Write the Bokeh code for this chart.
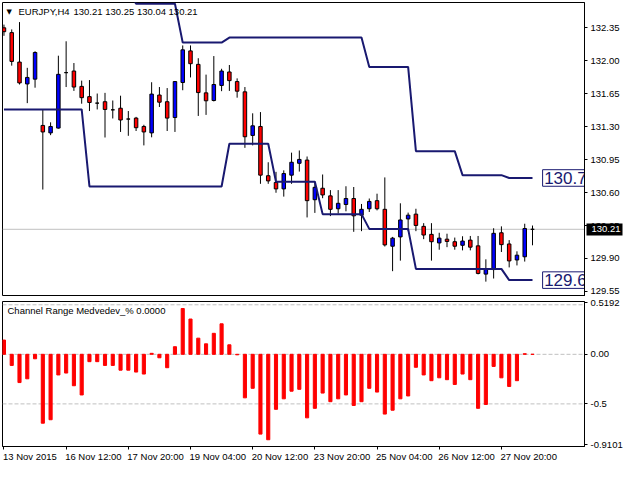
from bokeh.plotting import figure
from bokeh.models import (Range1d, FixedTicker, NumeralTickFormatter, Span, Label,
                          ColumnDataSource, LinearAxis)
from bokeh.layouts import column
from bokeh.embed import file_html
from bokeh.resources import INLINE
from bokeh.core.properties import value

# ---------------- data (EURJPY H4) ----------------
opens = [132.350, 132.299, 131.986, 131.754, 131.805, 131.313, 131.234, 131.285, 131.874, 131.891,
         131.728, 131.619, 131.550, 131.565, 131.479, 131.496, 131.381, 131.391, 131.302, 131.234,
         131.636, 131.565, 131.397, 131.769, 132.105, 131.962, 131.659, 131.578, 131.738, 131.881,
         131.779, 131.670, 131.207, 131.302, 130.779, 130.707, 130.639, 130.785, 130.911, 130.945,
         130.524, 130.646, 130.565, 130.428, 130.473, 130.537, 130.360, 130.428, 130.514, 130.422,
         130.030, 130.129, 130.320, 130.371, 130.241, 130.156, 130.065, 130.105, 130.078, 130.040,
         130.095, 130.034, 129.734, 129.782, 130.173, 130.054, 129.884, 129.918, 130.210]
highs = [132.384, 132.333, 132.411, 131.925, 132.101, 131.483, 131.346, 132.054, 132.207, 131.976,
         131.789, 131.795, 131.652, 131.659, 131.578, 131.629, 131.466, 131.404, 131.320, 131.772,
         131.721, 131.710, 131.782, 132.163, 132.163, 132.027, 131.853, 132.050, 131.915, 131.955,
         131.813, 131.721, 131.442, 131.455, 130.922, 130.820, 130.836, 131.024, 131.047, 130.983,
         130.718, 130.792, 130.626, 130.626, 130.667, 130.659, 130.479, 130.537, 130.588, 130.761,
         130.129, 130.486, 130.387, 130.428, 130.275, 130.275, 130.173, 130.163, 130.122, 130.136,
         130.139, 130.139, 129.891, 130.221, 130.241, 130.095, 129.976, 130.269, 130.250]
lows = [132.265, 131.948, 131.748, 131.550, 131.714, 130.632, 131.210, 131.279, 131.721, 131.680,
        131.544, 131.466, 131.483, 131.185, 131.387, 131.244, 131.203, 131.254, 131.101, 131.187,
        131.509, 131.254, 131.244, 131.687, 131.823, 131.414, 131.425, 131.568, 131.677, 131.680,
        131.608, 131.075, 131.101, 130.693, 130.693, 130.598, 130.557, 130.693, 130.823, 130.336,
        130.384, 130.540, 130.350, 130.377, 130.401, 130.183, 130.190, 130.394, 130.411, 130.027,
        129.765, 129.877, 130.190, 130.190, 130.105, 129.877, 129.993, 130.020, 129.993, 129.986,
        129.986, 129.731, 129.654, 129.687, 129.969, 129.805, 129.826, 129.867, 130.040]
closes = [132.309, 131.993, 131.765, 131.823, 132.088, 131.244, 131.302, 131.856, 131.874, 131.721,
          131.608, 131.557, 131.550, 131.483, 131.479, 131.371, 131.381, 131.289, 131.244, 131.646,
          131.560, 131.391, 131.779, 132.116, 131.969, 131.662, 131.575, 131.748, 131.891, 131.789,
          131.677, 131.193, 131.309, 130.785, 130.724, 130.639, 130.802, 130.922, 130.952, 130.514,
          130.656, 130.575, 130.422, 130.486, 130.537, 130.353, 130.422, 130.506, 130.428, 130.044,
          130.116, 130.309, 130.360, 130.251, 130.149, 130.078, 130.116, 130.081, 130.030, 130.085,
          130.020, 129.741, 129.782, 130.167, 130.047, 129.874, 129.935, 130.218, 130.210]
upper = [132.750, 132.750, 132.750, 132.750, 132.750, 132.750, 132.750, 132.750, 132.750, 132.750,
         132.750, 132.750, 132.750, 132.750, 132.750, 132.750, 132.750, 132.605, 132.605, 132.605,
         132.605, 132.605, 132.605, 132.193, 132.193, 132.193, 132.193, 132.193, 132.193, 132.246,
         132.246, 132.246, 132.246, 132.246, 132.246, 132.246, 132.246, 132.246, 132.246, 132.246,
         132.246, 132.246, 132.246, 132.246, 132.246, 132.246, 132.246, 131.935, 131.935, 131.935,
         131.935, 131.935, 131.935, 131.040, 131.040, 131.040, 131.040, 131.040, 131.040, 130.785,
         130.785, 130.785, 130.785, 130.785, 130.785, 130.755, 130.755, 130.755, 130.755]
lower = [131.483, 131.483, 131.483, 131.483, 131.483, 131.483, 131.483, 131.483, 131.483, 131.483,
         131.483, 130.665, 130.665, 130.665, 130.665, 130.665, 130.665, 130.665, 130.665, 130.665,
         130.665, 130.665, 130.665, 130.665, 130.665, 130.665, 130.665, 130.665, 130.665, 131.119,
         131.119, 131.119, 131.119, 131.119, 131.119, 130.714, 130.714, 130.714, 130.714, 130.714,
         130.714, 130.371, 130.371, 130.371, 130.371, 130.371, 130.371, 130.214, 130.214, 130.214,
         130.214, 130.214, 130.214, 129.789, 129.789, 129.789, 129.789, 129.789, 129.789, 129.789,
         129.789, 129.789, 129.789, 129.789, 129.789, 129.670, 129.670, 129.670, 129.670]
hist = [0.144, -0.112, -0.285, -0.247, -0.045, -0.695, -0.660, -0.208, -0.189, -0.317,
        -0.410, -0.074, -0.074, -0.112, -0.112, -0.160, -0.160, -0.179, -0.199, 0.010,
        -0.035, -0.135, 0.077, 0.462, 0.356, 0.163, 0.106, 0.212, 0.308, 0.096,
        -0.005, -0.439, -0.343, -0.805, -0.862, -0.555, -0.449, -0.372, -0.353, -0.641,
        -0.545, -0.391, -0.478, -0.449, -0.410, -0.516, -0.478, -0.343, -0.381, -0.603,
        -0.564, -0.449, -0.420, -0.131, -0.208, -0.266, -0.237, -0.256, -0.304, -0.199,
        -0.256, -0.545, -0.506, -0.122, -0.237, -0.324, -0.266, 0.006, 0.000]
time_ticks = [0, 8, 16, 24, 32, 40, 48, 56, 64]
time_labels = ["13 Nov 2015", "16 Nov 12:00", "17 Nov 20:00", "19 Nov 04:00", "20 Nov 12:00",
               "23 Nov 20:00", "25 Nov 04:00", "26 Nov 12:00", "27 Nov 20:00"]
price_ticks = [132.35, 132.00, 131.65, 131.30, 130.95, 130.60, 130.25, 129.90, 129.55]
ind_ticks = [0.5192, 0.0, -0.5, -0.9101]
ind_tick_labels = ["0.5192", "0.00", "-0.5", "-0.9101"]
ind_levels = [0.5, 0.0, -0.5]
symbol = "EURJPY,H4"
ohlc_text = "130.21 130.25 130.04 130.21"
bid = 130.21
upper_text = "130.7"
lower_text = "129.6"
ind_title = "Channel Range Medvedev_% 0.0000"

# ---------------- style ----------------
FONT = "Liberation Sans"
FS_PX = 9.5
FS = "9.5px"
NAVY = "#191970"
X0, X1 = -0.1875, 74.69
Y0, Y1 = 129.496, 132.619
I0, I1 = -0.93, 0.533
FRAME_W = 582
PX_PER_BAR = FRAME_W / (X1 - X0)
PRICE_AX_W = 35   # approximate width taken by the price scale (tick 3 + gap 3 + label ~29)

# Arial / Liberation Sans advance widths (per 1000 em) for label centring
ADV = {c: 556 for c in "0123456789"}
ADV.update({" ": 278, ":": 278, ".": 278, "N": 722, "o": 556, "v": 500})

def text_px(s):
    return sum(ADV.get(ch, 556) for ch in s) * FS_PX / 1000.0

idx = list(range(len(opens)))
colors = ["#0000ff" if c > o else ("#ff0000" if c < o else "#000000") for o, c in zip(opens, closes)]
src = ColumnDataSource(dict(x=idx, o=opens, h=highs, l=lows, c=closes,
                            top=[max(o, c) for o, c in zip(opens, closes)],
                            bottom=[min(o, c) for o, c in zip(opens, closes)],
                            color=colors))

def style_axis(ax):
    ax.major_tick_out = 3
    ax.major_tick_in = 0
    ax.minor_tick_out = 0
    ax.minor_tick_in = 0
    ax.axis_line_color = "black"
    ax.major_tick_line_color = "black"
    ax.major_label_text_font = FONT
    ax.major_label_text_font_size = FS
    ax.major_label_text_color = "black"
    ax.major_label_standoff = 3

# ---------------- main price panel ----------------
p1 = figure(frame_width=FRAME_W, frame_height=294, x_range=Range1d(X0, X1), y_range=Range1d(Y0, Y1),
            output_backend="svg", toolbar_location=None, x_axis_location=None,
            y_axis_location="right", min_border_left=2, min_border_right=40,
            min_border_top=2, min_border_bottom=0)
p1.xgrid.visible = False
p1.ygrid.visible = False
p1.outline_line_color = "black"
p1.outline_line_alpha = 1
p1.background_fill_color = "white"
p1.border_fill_color = "white"

price_ax = p1.yaxis[0]
style_axis(price_ax)
price_ax.ticker = FixedTicker(ticks=price_ticks)
price_ax.formatter = NumeralTickFormatter(format="0.00")

# bid price tag: a second scale stacked outside, whose single tick is drawn inwards
# as a thick black bar over the price scale, with its white label pulled back on top
tag_ax = LinearAxis(ticker=FixedTicker(ticks=[bid]), formatter=NumeralTickFormatter(format="0.00"))
tag_ax.axis_line_color = None
tag_ax.major_tick_in = PRICE_AX_W + 1
tag_ax.major_tick_out = 0
tag_ax.minor_tick_in = 0
tag_ax.minor_tick_out = 0
tag_ax.major_tick_line_width = 12
tag_ax.major_tick_line_color = "black"
tag_ax.major_tick_line_cap = "butt"
tag_ax.major_label_standoff = 4 - PRICE_AX_W
tag_ax.major_label_text_font = FONT
tag_ax.major_label_text_font_size = FS
tag_ax.major_label_text_color = "white"
p1.add_layout(tag_ax, "right")

p1.add_layout(Span(location=bid, dimension="width", line_color="#c0c0c0", line_width=1,
                   level="underlay"))

p1.segment(x0="x", y0="l", x1="x", y1="h", source=src, line_color="black", line_width=1)
p1.vbar(x="x", width=0.45, top="top", bottom="bottom", source=src,
        fill_color="color", line_color="black", line_width=1)

p1.line(idx, upper, line_color=NAVY, line_width=2)
p1.line(idx, lower, line_color=NAVY, line_width=2)

for lev, txt in ((upper[-1], upper_text), (lower[-1], lower_text)):
    p1.quad(left=[69.3], right=[80.0], top=[lev + 0.088], bottom=[lev - 0.088],
            fill_color="white", line_color=NAVY, line_width=1)
    p1.text(x=[69.5], y=[lev], text=[txt], text_font=value(FONT), text_font_size="17px",
            text_color=NAVY, text_baseline="middle", text_align="left")

p1.add_layout(Label(x=X0, y=Y1, x_offset=4, y_offset=-5, text="\u25bc", text_font="DejaVu Sans",
                    text_font_size="7px", text_color="black", text_baseline="top"))
p1.add_layout(Label(x=X0, y=Y1, x_offset=16, y_offset=-3, text=symbol, text_font=FONT,
                    text_font_size=FS, text_color="black", text_baseline="top"))
p1.add_layout(Label(x=X0, y=Y1, x_offset=71, y_offset=-3, text=ohlc_text, text_font=FONT,
                    text_font_size=FS, text_color="black", text_baseline="top"))

# ---------------- indicator panel ----------------
p2 = figure(frame_width=FRAME_W, frame_height=145, x_range=p1.x_range, y_range=Range1d(I0, I1),
            output_backend="svg", toolbar_location=None, y_axis_location="right",
            x_axis_location="below", min_border_left=2, min_border_right=40,
            min_border_top=5, min_border_bottom=18)
p2.xgrid.visible = False
p2.ygrid.visible = False
p2.outline_line_color = "black"
p2.outline_line_alpha = 1
p2.background_fill_color = "white"
p2.border_fill_color = "white"
p2.yaxis.ticker = FixedTicker(ticks=ind_ticks)
p2.yaxis.major_label_overrides = {t: s for t, s in zip(ind_ticks, ind_tick_labels)}
style_axis(p2.yaxis[0])

# time scale: tick marks at the bars (no labels) ...
tick_ax = p2.xaxis[0]
style_axis(tick_ax)
tick_ax.ticker = FixedTicker(ticks=time_ticks)
tick_ax.major_label_overrides = {t: "" for t in time_ticks}
tick_ax.major_label_text_font_size = "0px"
tick_ax.major_label_standoff = 0

# ... and labels written to the right of each tick, as MetaTrader does
label_pos = [t + (text_px(s) / 2.0 - 1.0) / PX_PER_BAR for t, s in zip(time_ticks, time_labels)]
label_ax = LinearAxis(ticker=FixedTicker(ticks=label_pos))
label_ax.major_label_overrides = {pos: s for pos, s in zip(label_pos, time_labels)}
label_ax.axis_line_color = None
label_ax.major_tick_in = 0
label_ax.major_tick_out = 0
label_ax.minor_tick_in = 0
label_ax.minor_tick_out = 0
label_ax.major_label_standoff = 1
label_ax.major_label_text_font = FONT
label_ax.major_label_text_font_size = FS
label_ax.major_label_text_color = "black"
p2.add_layout(label_ax, "below")

for lev in ind_levels:
    p2.add_layout(Span(location=lev, dimension="width", line_color="#c0c0c0", line_width=1,
                       line_dash="4 2", level="underlay"))

p2.vbar(x=idx, top=hist, bottom=0, width=0.4, fill_color="#ff0000", line_color="#ff0000",
        line_width=1)

p2.add_layout(Label(x=X0, y=I1, x_offset=5, y_offset=-3, text=ind_title, text_font=FONT,
                    text_font_size=FS, text_color="black", text_baseline="top"))

layout = column(p1, p2, spacing=0)
open("out.html", "w").write(file_html(layout, INLINE))
